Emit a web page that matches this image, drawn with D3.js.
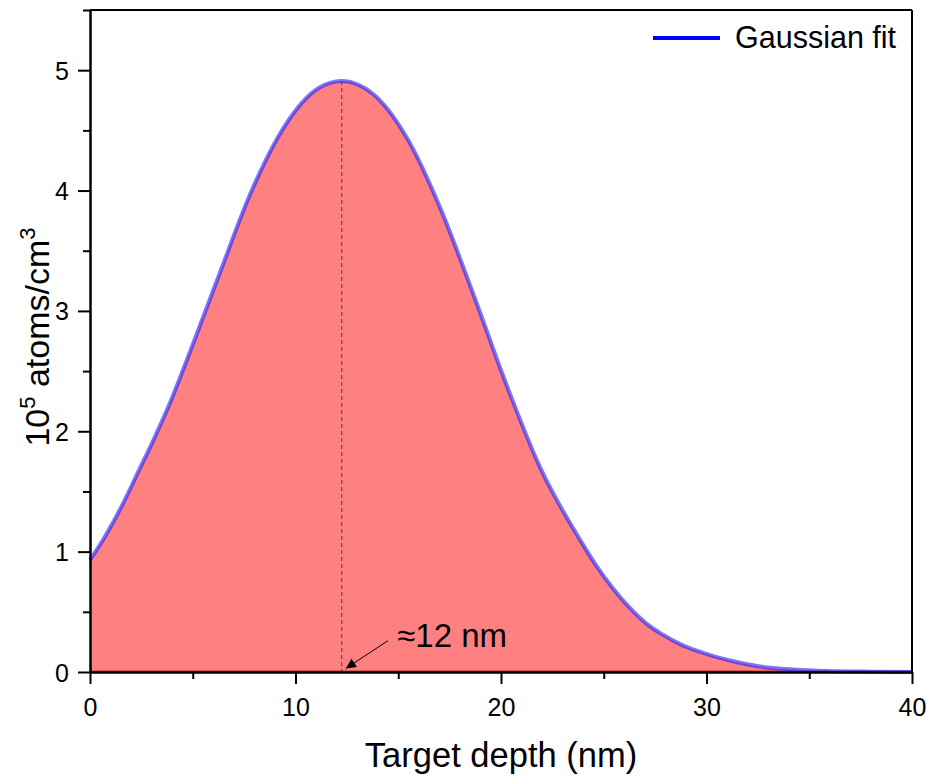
<!DOCTYPE html>
<html>
<head>
<meta charset="utf-8">
<script src="https://cdn.jsdelivr.net/npm/d3@7"></script>
<style>
  html, body { margin: 0; padding: 0; background: #fff; }
  svg { display: block; font-family: "Liberation Sans", Arial, sans-serif; }
</style>
</head>
<body>
<svg id="chart" width="935" height="778"></svg>
<script>
// ---- data ----
const depth = [0, 0.71, 1.52, 2.34, 3.15, 3.88, 4.62, 6.24, 7.87, 9.49, 11.11, 12.25, 13.79, 15.41, 17.03, 18.65, 20.28, 21.9, 23.84, 24.65, 25.47, 26.28, 27.09, 27.9, 28.71, 29.52, 30.33, 31.14, 32.6, 34.22, 35.85, 38, 40];
const atoms = [0.93, 1.12, 1.37, 1.66, 1.95, 2.23, 2.55, 3.28, 4.00, 4.54, 4.85, 4.91, 4.80, 4.44, 3.86, 3.14, 2.38, 1.70, 1.10, 0.88, 0.69, 0.53, 0.40, 0.307, 0.232, 0.177, 0.132, 0.095, 0.045, 0.02, 0.008, 0.003, 0.001];
const peakDepth = 12.25;
const peakValue = 4.91;
const xTicks = [0, 10, 20, 30, 40];
const yTicks = [0, 1, 2, 3, 4, 5];
const xMinor = [5, 15, 25, 35];
const yMinor = [0.5, 1.5, 2.5, 3.5, 4.5, 5.5];
const legendLabel = "Gaussian fit";
const annotationLabel = "≈12 nm";

const data = depth.map((d, i) => ({x: d, y: atoms[i]}));

const svg = d3.select("#chart");
const m = {left: 90, top: 10, right: 912, bottom: 672};

const x = d3.scaleLinear().domain([0, 40]).range([m.left, m.right]);
const y = d3.scaleLinear().domain([0, 5.5]).range([m.bottom, m.top]);

const area = d3.area().x(d => x(d.x)).y0(y(0)).y1(d => y(d.y)).curve(d3.curveMonotoneX);
const line = d3.line().x(d => x(d.x)).y(d => y(d.y)).curve(d3.curveMonotoneX);

svg.append("path").datum(data).attr("d", area).attr("fill", "#ff8080");
svg.append("line").attr("x1", x(0)).attr("x2", x(40)).attr("y1", y(0) - 1).attr("y2", y(0) - 1)
  .attr("stroke", "#b03030").attr("stroke-width", 1);

// dashed peak line
svg.append("line")
  .attr("x1", x(peakDepth)).attr("x2", x(peakDepth))
  .attr("y1", y(peakValue)).attr("y2", y(0))
  .attr("stroke", "#444").attr("stroke-width", 1).attr("stroke-dasharray", "4,3");

// fit line
svg.append("path").datum(data).attr("d", line)
  .attr("fill", "none").attr("stroke", "#2020ff").attr("stroke-opacity", 0.62).attr("stroke-width", 4);

// frame (top/right)
svg.append("line").attr("x1", m.left).attr("x2", m.right).attr("y1", m.top).attr("y2", m.top)
  .attr("stroke", "#000").attr("stroke-width", 2);
svg.append("line").attr("x1", m.right).attr("x2", m.right).attr("y1", m.top).attr("y2", m.bottom)
  .attr("stroke", "#000").attr("stroke-width", 2);

// axes
const fmt = d3.format("d");
const xAxis = svg.append("g").attr("transform", `translate(0,${m.bottom})`)
  .call(d3.axisBottom(x).tickValues(xTicks).tickFormat(fmt).tickSize(12).tickPadding(14).tickSizeOuter(0));
const xAxisMinor = svg.append("g").attr("transform", `translate(0,${m.bottom})`)
  .call(d3.axisBottom(x).tickValues(xMinor).tickSize(7).tickFormat("").tickSizeOuter(0));
const yAxis = svg.append("g").attr("transform", `translate(${m.left},0)`)
  .call(d3.axisLeft(y).tickValues(yTicks).tickFormat(fmt).tickSize(12).tickPadding(9).tickSizeOuter(0));
const yAxisMinor = svg.append("g").attr("transform", `translate(${m.left},0)`)
  .call(d3.axisLeft(y).tickValues(yMinor).tickSize(7).tickFormat("").tickSizeOuter(0));

[xAxis, xAxisMinor, yAxis, yAxisMinor].forEach(g => {
  g.selectAll(".domain").attr("stroke", "#000").attr("stroke-width", 2);
  g.selectAll(".tick line").attr("stroke", "#000").attr("stroke-width", 2);
  g.selectAll("text").attr("font-family", "'Liberation Sans', Arial, sans-serif").attr("font-size", 25).attr("fill", "#000");
});
xAxis.selectAll("text").attr("dy", "0.71em");
yAxis.selectAll("text").attr("dy", "0.36em");

// axis titles
svg.append("text").attr("x", (m.left + m.right) / 2).attr("y", 767)
  .attr("text-anchor", "middle").attr("font-size", 34.5).text("Target depth (nm)");

const yt = svg.append("text").attr("transform", `translate(49,337) rotate(-90)`)
  .attr("text-anchor", "middle").attr("font-size", 34);
yt.append("tspan").text("10");
yt.append("tspan").attr("font-size", 22).attr("dy", -14).text("5");
yt.append("tspan").attr("dy", 14).text(" atoms/cm");
yt.append("tspan").attr("font-size", 22).attr("dy", -14).text("3");

// legend
svg.append("line").attr("x1", 653).attr("x2", 720).attr("y1", 38).attr("y2", 38)
  .attr("stroke", "#0000ff").attr("stroke-width", 4);
svg.append("text").attr("x", 735).attr("y", 48).attr("font-size", 30.5).text(legendLabel);

// annotation arrow
const defs = svg.append("defs");
defs.append("marker").attr("id", "arr").attr("viewBox", "0 0 10 10").attr("refX", 10).attr("refY", 5)
  .attr("markerWidth", 14).attr("markerHeight", 10).attr("markerUnits", "userSpaceOnUse").attr("orient", "auto")
  .append("path").attr("d", "M0,0 L10,5 L0,10 z").attr("fill", "#000");
svg.append("line")
  .attr("x1", x(14.5)).attr("y1", y(0.26))
  .attr("x2", x(12.45)).attr("y2", y(0.03))
  .attr("stroke", "#000").attr("stroke-width", 1).attr("marker-end", "url(#arr)");
svg.append("text").attr("x", x(14.95)).attr("y", y(0.21)).attr("font-size", 33).text(annotationLabel);
</script>
</body>
</html>
